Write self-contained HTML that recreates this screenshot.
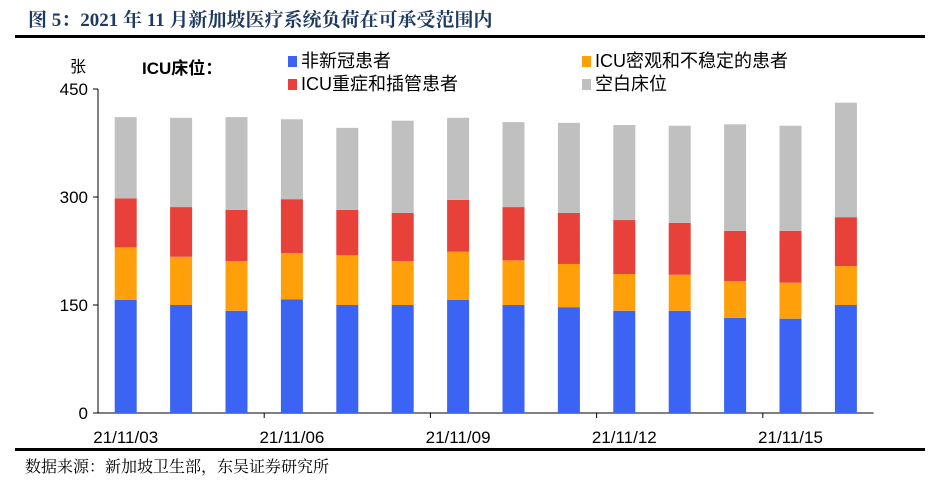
<!DOCTYPE html>
<html><head><meta charset="utf-8"><style>
body{margin:0;background:#fff;width:939px;height:481px;overflow:hidden;font-family:"Liberation Sans","Noto Sans CJK SC",sans-serif;}
svg text{font-family:"Liberation Sans","Noto Sans CJK SC",sans-serif;}
</style></head><body>
<svg id="c" width="939" height="481">
<text x="28" y="26" font-size="19" font-weight="bold" fill="#1f3a60" style="font-family:'Liberation Serif','Noto Serif CJK SC',serif">图 5：2021 年 11 月新加坡医疗系统负荷在可承受范围内</text>
<rect x="15" y="35" width="910" height="3" fill="#000"/>
<rect x="15" y="448" width="910" height="3" fill="#000"/>
<text x="25" y="472" font-size="16" fill="#000" style="font-family:'Liberation Serif','Noto Serif CJK SC',serif">数据来源：新加坡卫生部，东吴证券研究所</text>
<text x="70" y="72" font-size="16" fill="#000">张</text>
<text x="142" y="74" font-size="17" font-weight="bold" fill="#000">ICU床位：</text>
<g id="legend"></g>
<g id="axes"></g>
<g id="bars"></g>
</svg>
<script>
const categories=["21/11/03","21/11/04","21/11/05","21/11/06","21/11/07","21/11/08","21/11/09","21/11/10","21/11/11","21/11/12","21/11/13","21/11/14","21/11/15","21/11/16"];
const nonCovid=[157,150,142,158,150,150,157,150,147,142,142,132,131,150];
const icuObserve=[73,67,69,64,69,61,67,62,60,51,50,51,50,54];
const icuCritical=[68,69,71,75,63,67,72,74,71,75,72,70,72,68];
const emptyBeds=[113,124,129,111,114,128,114,118,125,132,135,148,146,159];
const yTicks=[0,150,300,450];
const seriesNames=["非新冠患者","ICU密观和不稳定的患者","ICU重症和插管患者","空白床位"];
const colors=["#3b64f5","#ff9f0a","#e8413a","#c0c0c0"];
const series=[nonCovid,icuObserve,icuCritical,emptyBeds];
const NS="http://www.w3.org/2000/svg";
const x0=98,cw=55.4,y0=413,yTop=89,ymax=450,bw=22;
const yS=v=>y0-(v/ymax)*(y0-yTop);
const xC=i=>x0+cw*(i+0.5);
function mk(tag,attrs,parent){const e=document.createElementNS(NS,tag);for(const k in attrs)e.setAttribute(k,attrs[k]);parent.appendChild(e);return e;}
const ax=document.getElementById('axes');
let l=mk('line',{x1:x0,y1:yTop,x2:x0,y2:y0,stroke:'#000','stroke-width':1},ax);


l=mk('line',{x1:x0,y1:y0,x2:x0+cw*categories.length,y2:y0,stroke:'#000','stroke-width':1},ax);


yTicks.forEach(v=>{
 const t=mk('line',{x1:x0-5,y1:yS(v),x2:x0,y2:yS(v),stroke:'#000'},ax);
 
 
 const tx=mk('text',{x:x0-10,y:yS(v)+6,'text-anchor':'end','font-size':17},ax);
 tx.textContent=v;
 
 
});
categories.forEach((c,i)=>{
 if(i%3===0){
  if(i>0){const t=mk('line',{x1:x0+cw*i,y1:y0,x2:x0+cw*i,y2:y0+5,stroke:'#000'},ax);
  
  }
  const tx=mk('text',{x:xC(i),y:y0+30,'text-anchor':'middle','font-size':17},ax);
  tx.textContent=c;
  
  
 }
});
const bg=document.getElementById('bars');
categories.forEach((c,i)=>{
 let acc=0;
 series.forEach((s,k)=>{
  const v=s[i];
  const r=mk('rect',{x:xC(i)-bw/2,y:yS(acc+v),width:bw,height:yS(acc)-yS(acc+v),fill:colors[k]},bg);
  
  
  acc+=v;
 });
});
const lg=document.getElementById('legend');
const lpos=[[288,67],[582,67],[288,90],[582,90]];
[0,1,2,3].forEach((k,j)=>{
 const [lx,ly]=lpos[j];
 const r=mk('rect',{x:lx,y:ly-11,width:9,height:11,fill:colors[k]},lg);
 
 
 const t=mk('text',{x:lx+13,y:ly,'font-size':18},lg);
 t.textContent=seriesNames[k];
 
 
});
</script>
</body></html>
